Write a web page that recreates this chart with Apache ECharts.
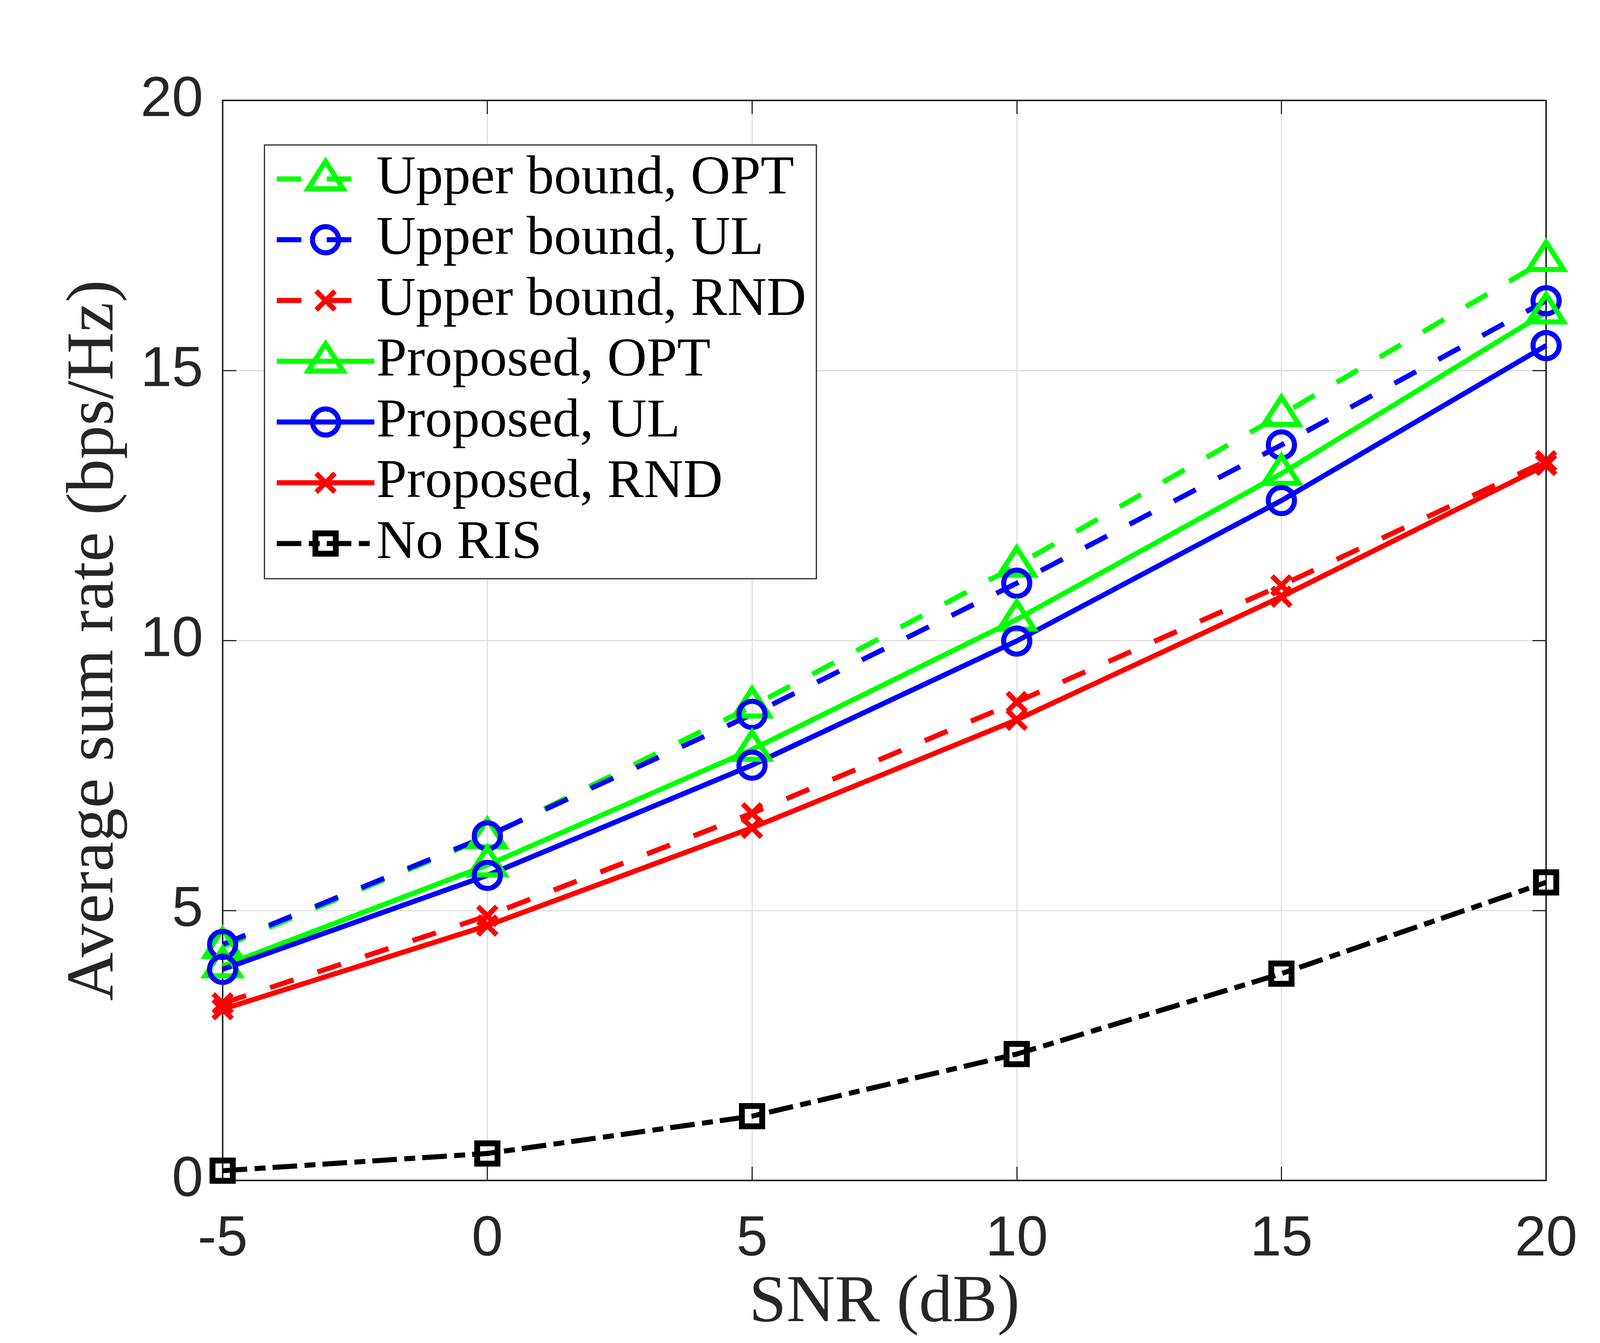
<!DOCTYPE html>
<html>
<head>
    <meta charset="utf-8">
    <title>Average sum rate vs SNR</title>
    <script src="https://cdn.jsdelivr.net/npm/echarts/dist/echarts.min.js"></script>
</head>
<body style="margin: 0; padding: 0; background: #fff;">
<div id="main" style="width: 4375px; height: 3437px;"></div>
<script type="text/javascript">
    // x axis: SNR (dB)
    var snr = [-5, 0, 5, 10, 15, 20];
    var xTicks = [-5, 0, 5, 10, 15, 20];
    var yTicks = [0, 5, 10, 15, 20];

    // average sum rate (bps/Hz)
    var ubOpt   = [4.33, 6.36, 8.78, 11.39, 14.18, 17.05];
    var ubUl    = [4.37, 6.38, 8.63, 11.06, 13.62, 16.29];
    var ubRnd   = [3.28, 4.90, 6.80, 8.86, 11.02, 13.32];
    var propOpt = [3.97, 5.84, 7.98, 10.39, 13.09, 16.08];
    var propUl  = [3.91, 5.65, 7.69, 9.99, 12.59, 15.46];
    var propRnd = [3.17, 4.72, 6.53, 8.53, 10.81, 13.25];
    var noRis   = [0.18, 0.50, 1.19, 2.34, 3.83, 5.52];

    var names = ['Upper bound, OPT', 'Upper bound, UL', 'Upper bound, RND',
                 'Proposed, OPT', 'Proposed, UL', 'Proposed, RND', 'No RIS'];

    // matlab style hollow markers, drawn in a 110px frame so plot and legend match
    var TRI   = 'path://M0,0M110,110M55,10L100,80L10,80Z';
    var CIRC  = 'path://M0,0M110,110M88.5,55A33.5,33.5,0,1,1,21.5,55A33.5,33.5,0,1,1,88.5,55Z';
    var CROSS = 'path://M0,0M110,110M31,31L79,79M79,31L31,79';
    var SQR   = 'path://M0,0M110,110M29,29L81,29L81,81L29,81Z';

    var DASH = [63, 65];
    var DASHDOT = [63, 19, 28, 18];
    var AX = '#262626';
    var LW = 13;

    function mk(name, vals, color, dash, symbol, bw) {
        return {
            name: name,
            type: 'line',
            data: snr.map(function (x, i) { return [x, vals[i]]; }),
            symbol: symbol,
            symbolSize: 110,
            showSymbol: true,
            clip: false,
            animation: false,
            emphasis: { disabled: true },
            lineStyle: { color: color, width: LW, type: dash, cap: 'butt' },
            itemStyle: { color: 'rgba(0,0,0,0)', borderColor: color, borderWidth: bw }
        };
    }

    var myChart = echarts.init(document.getElementById('main'), null, { width: 4375, height: 3437 });

    var tickFont = { fontFamily: 'Liberation Sans', fontSize: 144, color: AX };

    var option = {
        backgroundColor: '#ffffff',
        animation: false,
        grid: { left: 570, right: 417, top: 257, bottom: 416, outerBoundsMode: 'none' },
        legend: {
            orient: 'vertical',
            left: 677,
            top: 371,
            padding: [17, 26, 20, 25],
            itemWidth: 250,
            itemHeight: 137.5,
            itemGap: 15.5,
            itemTextGap: 42,
            selectedMode: false,
            backgroundColor: '#ffffff',
            borderColor: AX,
            borderWidth: 3,
            borderRadius: 0,
            lineStyle: { width: LW },
            itemStyle: { borderWidth: LW },
            textStyle: { fontFamily: 'Liberation Serif', fontSize: 140, lineHeight: 137.5, color: '#000000' },
            data: names.map(function (n, i) {
                return { name: n, itemStyle: { borderWidth: i === 6 ? 15 : LW } };
            })
        },
        xAxis: [{
            type: 'value',
            min: xTicks[0], max: xTicks[xTicks.length - 1], interval: 5,
            name: 'SNR (dB)',
            nameLocation: 'middle',
            nameGap: 222,
            nameTextStyle: { fontFamily: 'Liberation Serif', fontSize: 172, color: AX },
            axisLine: { show: true, onZero: false, lineStyle: { color: AX, width: 4 } },
            axisTick: { show: true, inside: true, length: 35, lineStyle: { color: AX, width: 3 } },
            axisLabel: Object.assign({ margin: 80 }, tickFont),
            splitLine: { show: true, lineStyle: { color: '#dfdfdf', width: 3 } }
        }, {
            type: 'value', position: 'top',
            min: xTicks[0], max: xTicks[xTicks.length - 1], interval: 5,
            axisLine: { show: true, onZero: false, lineStyle: { color: AX, width: 4 } },
            axisTick: { show: true, inside: true, length: 35, lineStyle: { color: AX, width: 3 } },
            axisLabel: { show: false },
            splitLine: { show: false }
        }],
        yAxis: [{
            type: 'value',
            min: yTicks[0], max: yTicks[yTicks.length - 1], interval: 5,
            name: 'Average sum rate (bps/Hz)',
            nameLocation: 'middle',
            nameGap: 241,
            nameTextStyle: { fontFamily: 'Liberation Serif', fontSize: 172, color: AX },
            axisLine: { show: true, onZero: false, lineStyle: { color: AX, width: 4 } },
            axisTick: { show: true, inside: true, length: 35, lineStyle: { color: AX, width: 3 } },
            axisLabel: Object.assign({ margin: 50 }, tickFont),
            splitLine: { show: true, lineStyle: { color: '#dfdfdf', width: 3 } }
        }, {
            type: 'value', position: 'right',
            min: yTicks[0], max: yTicks[yTicks.length - 1], interval: 5,
            axisLine: { show: true, onZero: false, lineStyle: { color: AX, width: 4 } },
            axisTick: { show: true, inside: true, length: 35, lineStyle: { color: AX, width: 3 } },
            axisLabel: { show: false },
            splitLine: { show: false }
        }],
        series: [
            mk(names[0], ubOpt,   '#00ff00', DASH,    TRI,   LW),
            mk(names[1], ubUl,    '#0000ff', DASH,    CIRC,  LW),
            mk(names[2], ubRnd,   '#ff0000', DASH,    CROSS, LW),
            mk(names[3], propOpt, '#00ff00', 'solid', TRI,   LW),
            mk(names[4], propUl,  '#0000ff', 'solid', CIRC,  LW),
            mk(names[5], propRnd, '#ff0000', 'solid', CROSS, LW),
            mk(names[6], noRis,   '#000000', DASHDOT, SQR,   15)
        ]
    };

    myChart.setOption(option);
</script>
</body>
</html>
